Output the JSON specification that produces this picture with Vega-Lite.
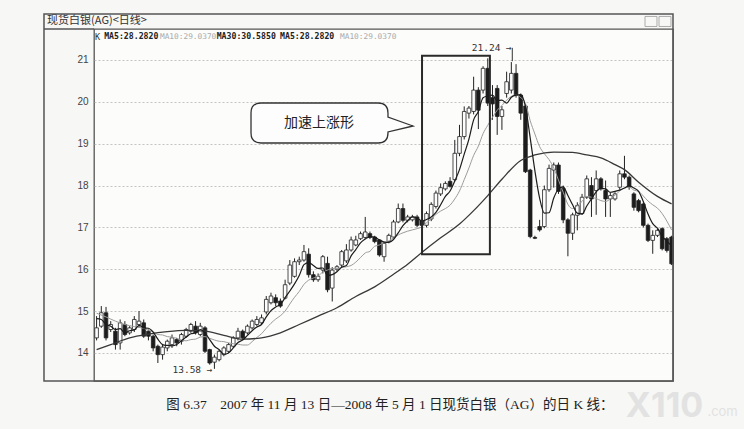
{
"$schema": "https://vega.github.io/schema/vega-lite/v6.json",
"width": 579, "height": 352,
"autosize": {"type": "none"},
"padding": {"left": 94, "top": 29, "right": 71, "bottom": 48},
"background": "#f7f7f5",
"config": {"view": {"stroke": "#555", "strokeWidth": 1.3, "fill": "#fcfcfb"},
 "axisY": {"values": [14,15,16,17,18,19,20,21], "format": "d", "domain": false, "ticks": false, "labelPadding": 6, "labelFont": "Liberation Sans", "labelFontSize": 10, "labelColor": "#444", "grid": true, "gridColor": "#b5b5b5", "gridDash": [2,2], "gridWidth": 0.8}},
"datasets": {
"k": [
{"i":1,"o":14.36,"h":14.88,"l":14.3,"c":14.6},{"i":2,"o":14.64,"h":15.12,"l":14.6,"c":14.96},{"i":3,"o":14.96,"h":15.1,"l":14.3,"c":14.36},{"i":4,"o":14.56,"h":14.76,"l":14.5,"c":14.68},{"i":5,"o":14.52,"h":14.6,"l":14.08,"c":14.2},{"i":6,"o":14.24,"h":14.8,"l":14.08,"c":14.72},{"i":7,"o":14.68,"h":14.76,"l":14.4,"c":14.44},{"i":8,"o":14.48,"h":14.64,"l":14.44,"c":14.6},{"i":9,"o":14.56,"h":14.88,"l":14.5,"c":14.8},{"i":10,"o":14.68,"h":15.0,"l":14.6,"c":14.76},
{"i":11,"o":14.72,"h":14.8,"l":14.36,"c":14.4},{"i":12,"o":14.52,"h":14.56,"l":14.3,"c":14.4},{"i":13,"o":14.4,"h":14.44,"l":14.04,"c":14.12},{"i":14,"o":14.16,"h":14.2,"l":13.76,"c":13.96},{"i":15,"o":13.96,"h":14.2,"l":13.84,"c":14.14},{"i":16,"o":14.12,"h":14.32,"l":14.04,"c":14.28},{"i":17,"o":14.2,"h":14.44,"l":14.12,"c":14.36},{"i":18,"o":14.32,"h":14.36,"l":14.16,"c":14.24},{"i":19,"o":14.28,"h":14.48,"l":14.2,"c":14.44},{"i":20,"o":14.4,"h":14.6,"l":14.36,"c":14.56},
{"i":21,"o":14.52,"h":14.72,"l":14.48,"c":14.68},{"i":22,"o":14.64,"h":14.76,"l":14.44,"c":14.48},{"i":23,"o":14.44,"h":14.72,"l":14.4,"c":14.64},{"i":24,"o":14.6,"h":14.64,"l":14.0,"c":14.04},{"i":25,"o":14.08,"h":14.1,"l":13.72,"c":13.76},{"i":26,"o":13.78,"h":13.96,"l":13.62,"c":13.9},{"i":27,"o":13.84,"h":14.08,"l":13.8,"c":14.04},{"i":28,"o":13.96,"h":14.16,"l":13.92,"c":14.12},{"i":29,"o":14.04,"h":14.24,"l":14.0,"c":14.2},{"i":30,"o":14.16,"h":14.4,"l":14.12,"c":14.36},
{"i":31,"o":14.36,"h":14.6,"l":14.3,"c":14.52},{"i":32,"o":14.52,"h":14.56,"l":14.32,"c":14.36},{"i":33,"o":14.48,"h":14.68,"l":14.44,"c":14.64},{"i":34,"o":14.6,"h":14.8,"l":14.56,"c":14.76},{"i":35,"o":14.68,"h":14.88,"l":14.64,"c":14.8},{"i":36,"o":14.72,"h":14.92,"l":14.68,"c":14.84},{"i":37,"o":14.98,"h":15.36,"l":14.92,"c":15.28},{"i":38,"o":15.2,"h":15.44,"l":15.16,"c":15.36},{"i":39,"o":15.32,"h":15.4,"l":15.12,"c":15.2},{"i":40,"o":15.24,"h":15.3,"l":15.08,"c":15.12},
{"i":41,"o":15.31,"h":15.75,"l":15.28,"c":15.63},{"i":42,"o":15.67,"h":16.22,"l":15.62,"c":16.1},{"i":43,"o":15.83,"h":16.26,"l":15.8,"c":16.18},{"i":44,"o":16.18,"h":16.3,"l":16.1,"c":16.22},{"i":45,"o":16.22,"h":16.58,"l":16.18,"c":16.42},{"i":46,"o":16.36,"h":16.5,"l":15.8,"c":15.87},{"i":47,"o":15.87,"h":15.95,"l":15.7,"c":15.75},{"i":48,"o":15.75,"h":15.9,"l":15.7,"c":15.83},{"i":49,"o":15.98,"h":16.34,"l":15.9,"c":16.3},{"i":50,"o":16.14,"h":16.3,"l":15.45,"c":15.51},
{"i":51,"o":15.55,"h":16.05,"l":15.23,"c":15.98},{"i":52,"o":16.0,"h":16.1,"l":15.95,"c":16.06},{"i":53,"o":16.1,"h":16.46,"l":16.05,"c":16.42},{"i":54,"o":16.2,"h":16.6,"l":16.15,"c":16.46},{"i":55,"o":16.46,"h":16.78,"l":16.42,"c":16.7},{"i":56,"o":16.58,"h":16.8,"l":16.55,"c":16.7},{"i":57,"o":16.73,"h":16.9,"l":16.7,"c":16.85},{"i":58,"o":16.76,"h":17.25,"l":16.72,"c":16.89},{"i":59,"o":16.85,"h":16.9,"l":16.72,"c":16.76},{"i":60,"o":16.77,"h":16.8,"l":16.62,"c":16.66},
{"i":61,"o":16.7,"h":16.72,"l":16.3,"c":16.34},{"i":62,"o":16.3,"h":16.66,"l":16.18,"c":16.62},{"i":63,"o":16.66,"h":16.85,"l":16.62,"c":16.81},{"i":64,"o":16.77,"h":17.18,"l":16.74,"c":17.13},{"i":65,"o":17.13,"h":17.57,"l":17.1,"c":17.45},{"i":66,"o":17.45,"h":17.57,"l":17.12,"c":17.17},{"i":67,"o":17.17,"h":17.3,"l":17.12,"c":17.25},{"i":68,"o":17.18,"h":17.3,"l":17.14,"c":17.25},{"i":69,"o":17.25,"h":17.3,"l":17.0,"c":17.05},{"i":70,"o":17.17,"h":17.2,"l":16.98,"c":17.05},
{"i":71,"o":17.05,"h":17.38,"l":17.0,"c":17.33},{"i":72,"o":17.2,"h":17.6,"l":17.15,"c":17.55},{"i":73,"o":17.5,"h":17.88,"l":17.45,"c":17.82},{"i":74,"o":17.8,"h":18.05,"l":17.75,"c":17.95},{"i":75,"o":17.92,"h":18.1,"l":17.88,"c":18.05},{"i":76,"o":18.1,"h":18.2,"l":17.95,"c":17.98},{"i":77,"o":18.14,"h":19.09,"l":18.1,"c":18.77},{"i":78,"o":18.77,"h":19.45,"l":18.7,"c":19.17},{"i":79,"o":19.17,"h":19.89,"l":19.1,"c":19.77},{"i":80,"o":19.73,"h":19.9,"l":19.6,"c":19.85},
{"i":81,"o":19.77,"h":20.6,"l":19.7,"c":20.28},{"i":82,"o":20.28,"h":20.35,"l":19.35,"c":19.8},{"i":83,"o":20.28,"h":20.85,"l":20.2,"c":20.8},{"i":84,"o":20.8,"h":21.04,"l":19.9,"c":19.97},{"i":85,"o":20.1,"h":20.4,"l":19.57,"c":19.95},{"i":86,"o":20.32,"h":20.4,"l":19.21,"c":19.65},{"i":87,"o":19.65,"h":19.9,"l":19.33,"c":19.81},{"i":88,"o":20.2,"h":20.72,"l":20.1,"c":20.48},{"i":89,"o":20.28,"h":20.95,"l":20.2,"c":20.68},{"i":90,"o":20.68,"h":20.9,"l":20.1,"c":20.16},
{"i":91,"o":20.16,"h":20.2,"l":19.57,"c":19.73},{"i":92,"o":19.9,"h":19.95,"l":18.3,"c":18.33},{"i":93,"o":18.37,"h":18.4,"l":16.74,"c":16.78},{"i":94,"o":16.76,"h":16.8,"l":16.72,"c":16.74},{"i":95,"o":17.02,"h":17.18,"l":16.9,"c":16.94},{"i":96,"o":17.02,"h":18.0,"l":16.98,"c":17.9},{"i":97,"o":17.9,"h":18.5,"l":17.85,"c":18.41},{"i":98,"o":18.37,"h":18.55,"l":17.95,"c":18.49},{"i":99,"o":18.49,"h":18.55,"l":17.8,"c":17.86},{"i":100,"o":17.94,"h":18.0,"l":17.1,"c":17.18},
{"i":101,"o":17.18,"h":17.22,"l":16.31,"c":16.86},{"i":102,"o":16.86,"h":17.35,"l":16.7,"c":17.3},{"i":103,"o":17.29,"h":17.6,"l":16.93,"c":17.52},{"i":104,"o":17.33,"h":17.8,"l":17.3,"c":17.72},{"i":105,"o":17.72,"h":18.24,"l":17.68,"c":18.16},{"i":106,"o":18.0,"h":18.2,"l":17.25,"c":17.68},{"i":107,"o":17.88,"h":18.36,"l":17.3,"c":18.16},{"i":108,"o":18.16,"h":18.2,"l":17.88,"c":17.92},{"i":109,"o":17.88,"h":18.12,"l":17.25,"c":17.68},{"i":110,"o":17.68,"h":17.84,"l":17.25,"c":17.76},
{"i":111,"o":17.68,"h":17.84,"l":17.64,"c":17.8},{"i":112,"o":17.96,"h":18.36,"l":17.9,"c":18.28},{"i":113,"o":18.28,"h":18.71,"l":18.15,"c":18.2},{"i":114,"o":18.2,"h":18.24,"l":17.9,"c":17.96},{"i":115,"o":17.8,"h":17.84,"l":17.4,"c":17.48},{"i":116,"o":17.64,"h":17.68,"l":17.36,"c":17.4},{"i":117,"o":17.56,"h":17.6,"l":17.0,"c":17.05},{"i":118,"o":17.05,"h":17.09,"l":16.65,"c":16.69},{"i":119,"o":16.69,"h":16.93,"l":16.37,"c":16.81},{"i":120,"o":16.81,"h":16.97,"l":16.77,"c":16.93},
{"i":121,"o":16.97,"h":17.0,"l":16.45,"c":16.49},{"i":122,"o":16.73,"h":16.77,"l":16.4,"c":16.45},{"i":123,"o":16.77,"h":16.8,"l":16.1,"c":16.13}
],
"ma5": [
{"i":1,"v":14.82},{"i":2,"v":14.8},{"i":3,"v":14.68},{"i":4,"v":14.64},{"i":5,"v":14.56},{"i":6,"v":14.58},{"i":7,"v":14.48},{"i":8,"v":14.53},{"i":9,"v":14.55},{"i":10,"v":14.66},{"i":11,"v":14.6},{"i":12,"v":14.59},{"i":13,"v":14.5},{"i":14,"v":14.33},{"i":15,"v":14.2},{"i":16,"v":14.18},{"i":17,"v":14.17},{"i":18,"v":14.2},{"i":19,"v":14.29},{"i":20,"v":14.38},{"i":21,"v":14.46},{"i":22,"v":14.48},{"i":23,"v":14.56},{"i":24,"v":14.48},{"i":25,"v":14.32},{"i":26,"v":14.16},{"i":27,"v":14.08},{"i":28,"v":13.97},{"i":29,"v":14.0},{"i":30,"v":14.12},{"i":31,"v":14.25},{"i":32,"v":14.31},{"i":33,"v":14.42},{"i":34,"v":14.53},{"i":35,"v":14.62},{"i":36,"v":14.68},{"i":37,"v":14.86},{"i":38,"v":15.01},{"i":39,"v":15.1},{"i":40,"v":15.16},{"i":41,"v":15.32},{"i":42,"v":15.48},{"i":43,"v":15.65},{"i":44,"v":15.85},{"i":45,"v":16.11},{"i":46,"v":16.16},{"i":47,"v":16.09},{"i":48,"v":16.02},{"i":49,"v":16.03},{"i":50,"v":15.85},{"i":51,"v":15.87},{"i":52,"v":15.94},{"i":53,"v":16.05},{"i":54,"v":16.09},{"i":55,"v":16.32},{"i":56,"v":16.47},{"i":57,"v":16.63},{"i":58,"v":16.72},{"i":59,"v":16.78},{"i":60,"v":16.77},{"i":61,"v":16.7},{"i":62,"v":16.65},{"i":63,"v":16.64},{"i":64,"v":16.71},{"i":65,"v":16.87},{"i":66,"v":17.04},{"i":67,"v":17.16},{"i":68,"v":17.25},{"i":69,"v":17.23},{"i":70,"v":17.15},{"i":71,"v":17.19},{"i":72,"v":17.25},{"i":73,"v":17.36},{"i":74,"v":17.54},{"i":75,"v":17.74},{"i":76,"v":17.87},{"i":77,"v":18.11},{"i":78,"v":18.38},{"i":79,"v":18.75},{"i":80,"v":19.11},{"i":81,"v":19.57},{"i":82,"v":19.77},{"i":83,"v":20.1},{"i":84,"v":20.14},{"i":85,"v":20.16},{"i":86,"v":20.03},{"i":87,"v":20.04},{"i":88,"v":19.97},{"i":89,"v":20.11},{"i":90,"v":20.16},{"i":91,"v":20.17},{"i":92,"v":19.88},{"i":93,"v":19.14},{"i":94,"v":18.35},{"i":95,"v":17.7},{"i":96,"v":17.34},{"i":97,"v":17.35},{"i":98,"v":17.7},{"i":99,"v":17.92},{"i":100,"v":17.97},{"i":101,"v":17.76},{"i":102,"v":17.54},{"i":103,"v":17.34},{"i":104,"v":17.32},{"i":105,"v":17.51},{"i":106,"v":17.68},{"i":107,"v":17.85},{"i":108,"v":17.93},{"i":109,"v":17.92},{"i":110,"v":17.84},{"i":111,"v":17.86},{"i":112,"v":17.89},{"i":113,"v":17.94},{"i":114,"v":18.0},{"i":115,"v":17.94},{"i":116,"v":17.86},{"i":117,"v":17.62},{"i":118,"v":17.32},{"i":119,"v":17.09},{"i":120,"v":16.98},{"i":121,"v":16.79},{"i":122,"v":16.67},{"i":123,"v":16.56}
],
"ma10": [
{"i":1,"v":14.95},{"i":3,"v":14.86},{"i":5,"v":14.76},{"i":7,"v":14.68},{"i":9,"v":14.63},{"i":10,"v":14.61},{"i":11,"v":14.59},{"i":12,"v":14.54},{"i":13,"v":14.51},{"i":14,"v":14.44},{"i":15,"v":14.43},{"i":16,"v":14.39},{"i":17,"v":14.38},{"i":18,"v":14.35},{"i":19,"v":14.31},{"i":20,"v":14.29},{"i":21,"v":14.32},{"i":22,"v":14.33},{"i":23,"v":14.38},{"i":24,"v":14.39},{"i":25,"v":14.35},{"i":26,"v":14.31},{"i":27,"v":14.28},{"i":28,"v":14.27},{"i":29,"v":14.24},{"i":30,"v":14.22},{"i":31,"v":14.21},{"i":32,"v":14.19},{"i":33,"v":14.19},{"i":34,"v":14.27},{"i":35,"v":14.37},{"i":36,"v":14.46},{"i":37,"v":14.59},{"i":38,"v":14.71},{"i":39,"v":14.81},{"i":40,"v":14.89},{"i":41,"v":15.0},{"i":42,"v":15.17},{"i":43,"v":15.33},{"i":44,"v":15.47},{"i":45,"v":15.64},{"i":46,"v":15.74},{"i":47,"v":15.79},{"i":48,"v":15.83},{"i":49,"v":15.94},{"i":50,"v":15.98},{"i":51,"v":16.02},{"i":52,"v":16.01},{"i":53,"v":16.04},{"i":54,"v":16.06},{"i":55,"v":16.09},{"i":56,"v":16.17},{"i":57,"v":16.28},{"i":58,"v":16.39},{"i":59,"v":16.43},{"i":60,"v":16.55},{"i":61,"v":16.58},{"i":62,"v":16.64},{"i":63,"v":16.68},{"i":64,"v":16.75},{"i":65,"v":16.82},{"i":66,"v":16.87},{"i":67,"v":16.91},{"i":68,"v":16.94},{"i":69,"v":16.97},{"i":70,"v":17.01},{"i":71,"v":17.11},{"i":72,"v":17.2},{"i":73,"v":17.31},{"i":74,"v":17.39},{"i":75,"v":17.45},{"i":76,"v":17.53},{"i":77,"v":17.68},{"i":78,"v":17.87},{"i":79,"v":18.14},{"i":80,"v":18.42},{"i":81,"v":18.72},{"i":82,"v":18.94},{"i":83,"v":19.24},{"i":84,"v":19.44},{"i":85,"v":19.63},{"i":86,"v":19.8},{"i":87,"v":19.91},{"i":88,"v":20.04},{"i":89,"v":20.13},{"i":90,"v":20.16},{"i":91,"v":20.1},{"i":92,"v":19.96},{"i":93,"v":19.55},{"i":94,"v":19.23},{"i":95,"v":18.93},{"i":96,"v":18.76},{"i":97,"v":18.62},{"i":98,"v":18.42},{"i":99,"v":18.13},{"i":100,"v":17.84},{"i":101,"v":17.55},{"i":102,"v":17.45},{"i":103,"v":17.52},{"i":104,"v":17.62},{"i":105,"v":17.74},{"i":106,"v":17.72},{"i":107,"v":17.69},{"i":108,"v":17.64},{"i":109,"v":17.62},{"i":110,"v":17.68},{"i":111,"v":17.77},{"i":112,"v":17.87},{"i":113,"v":17.94},{"i":114,"v":17.96},{"i":115,"v":17.89},{"i":116,"v":17.86},{"i":117,"v":17.75},{"i":118,"v":17.63},{"i":119,"v":17.54},{"i":120,"v":17.46},{"i":121,"v":17.33},{"i":122,"v":17.15},{"i":123,"v":16.94}
],
"ma30": [
{"i":1,"v":14.08},{"i":4,"v":14.2},{"i":8,"v":14.36},{"i":12,"v":14.45},{"i":16,"v":14.51},{"i":20,"v":14.54},{"i":24,"v":14.52},{"i":28,"v":14.42},{"i":32,"v":14.33},{"i":36,"v":14.36},{"i":40,"v":14.48},{"i":44,"v":14.68},{"i":48,"v":14.88},{"i":52,"v":15.08},{"i":56,"v":15.35},{"i":60,"v":15.58},{"i":64,"v":15.88},{"i":67,"v":16.12},{"i":70,"v":16.4},{"i":74,"v":16.75},{"i":78,"v":17.08},{"i":81,"v":17.4},{"i":84,"v":17.76},{"i":87,"v":18.15},{"i":91,"v":18.6},{"i":94,"v":18.73},{"i":98,"v":18.8},{"i":102,"v":18.79},{"i":105,"v":18.73},{"i":108,"v":18.66},{"i":111,"v":18.5},{"i":113,"v":18.38},{"i":116,"v":18.08},{"i":120,"v":17.74},{"i":123,"v":17.56}
],
"one": [{}]
},
"layer": [
{"data": {"name": "k"}, "mark": {"type": "rule", "color": "#222", "strokeWidth": 1},
 "encoding": {
  "x": {"field": "i", "type": "quantitative", "scale": {"domain": [0.45, 123.3], "nice": false, "zero": false, "padding": 0}, "axis": null},
  "y": {"field": "l", "type": "quantitative", "title": null, "scale": {"domain": [13.33, 21.74], "nice": false, "zero": false, "padding": 0}},
  "y2": {"field": "h"}}},
{"data": {"name": "k"}, "mark": {"type": "bar", "width": 3.6, "stroke": "#222", "strokeWidth": 0.8},
 "encoding": {
  "x": {"field": "i", "type": "quantitative", "scale": {"domain": [0.45, 123.3], "nice": false, "zero": false, "padding": 0}, "axis": null},
  "y": {"field": "o", "type": "quantitative", "title": null, "scale": {"domain": [13.33, 21.74], "nice": false, "zero": false, "padding": 0}},
  "y2": {"field": "c"},
  "fill": {"condition": {"test": "datum.c > datum.o", "value": "#fdfdfd"}, "value": "#1c1c1c"}}},
{"data": {"name": "ma10"}, "mark": {"type": "line", "color": "#9c9c9c", "strokeWidth": 1, "interpolate": "monotone"},
 "encoding": {
  "x": {"field": "i", "type": "quantitative", "scale": {"domain": [0.45, 123.3], "nice": false, "zero": false, "padding": 0}, "axis": null},
  "y": {"field": "v", "type": "quantitative", "title": null, "scale": {"domain": [13.33, 21.74], "nice": false, "zero": false, "padding": 0}}}},
{"data": {"name": "ma30"}, "mark": {"type": "line", "color": "#383838", "strokeWidth": 1.3, "interpolate": "monotone"},
 "encoding": {
  "x": {"field": "i", "type": "quantitative", "scale": {"domain": [0.45, 123.3], "nice": false, "zero": false, "padding": 0}, "axis": null},
  "y": {"field": "v", "type": "quantitative", "title": null, "scale": {"domain": [13.33, 21.74], "nice": false, "zero": false, "padding": 0}}}},
{"data": {"name": "ma5"}, "mark": {"type": "line", "color": "#1c1c1c", "strokeWidth": 1.2, "interpolate": "monotone"},
 "encoding": {
  "x": {"field": "i", "type": "quantitative", "scale": {"domain": [0.45, 123.3], "nice": false, "zero": false, "padding": 0}, "axis": null},
  "y": {"field": "v", "type": "quantitative", "title": null, "scale": {"domain": [13.33, 21.74], "nice": false, "zero": false, "padding": 0}}}},
{"data": {"name": "one"}, "mark": {"type": "rect", "fillOpacity": 0, "stroke": "#2a2a2a", "strokeWidth": 2, "clip": false},
 "encoding": {
  "x": {"datum": 70.05, "type": "quantitative", "scale": {"domain": [0.45, 123.3], "nice": false, "zero": false, "padding": 0}, "axis": null},
  "x2": {"datum": 84.45},
  "y": {"datum": 16.36, "type": "quantitative", "title": null, "scale": {"domain": [13.33, 21.74], "nice": false, "zero": false, "padding": 0}},
  "y2": {"datum": 21.1}}},
{"data": {"name": "one"}, "mark": {"type": "point", "shape": "M -0.877 -0.247 L 0.568 -0.247 Q 0.691 -0.247 0.691 -0.124 L 0.691 -0.074 L 1 0.037 L 0.691 0.11 L 0.691 0.124 Q 0.691 0.247 0.568 0.247 L -0.877 0.247 Q -1 0.247 -1 0.124 L -1 -0.124 Q -1 -0.247 -0.877 -0.247 Z", "size": 26244, "filled": true, "fill": "#fdfdfd", "stroke": "#333", "strokeWidth": 1.3, "opacity": 1, "clip": false},
 "encoding": {
  "x": {"datum": 50.95, "type": "quantitative", "scale": {"domain": [0.45, 123.3], "nice": false, "zero": false, "padding": 0}, "axis": null},
  "y": {"datum": 19.494, "type": "quantitative", "title": null, "scale": {"domain": [13.33, 21.74], "nice": false, "zero": false, "padding": 0}}}},
{"data": {"name": "one"}, "mark": {"type": "text", "text": "加速上涨形", "font": "Noto Sans CJK SC", "fontSize": 14, "color": "#222", "align": "center", "baseline": "middle"},
 "encoding": {
  "x": {"datum": 48.2, "type": "quantitative", "scale": {"domain": [0.45, 123.3], "nice": false, "zero": false, "padding": 0}, "axis": null},
  "y": {"datum": 19.494, "type": "quantitative", "title": null, "scale": {"domain": [13.33, 21.74], "nice": false, "zero": false, "padding": 0}}}},
{"data": {"name": "one"}, "mark": {"type": "text", "text": "21.24 →", "font": "DejaVu Sans Mono", "fontSize": 9.5, "color": "#333", "align": "right", "baseline": "middle"},
 "encoding": {
  "x": {"datum": 89.1, "type": "quantitative", "scale": {"domain": [0.45, 123.3], "nice": false, "zero": false, "padding": 0}, "axis": null},
  "y": {"datum": 21.29, "type": "quantitative", "title": null, "scale": {"domain": [13.33, 21.74], "nice": false, "zero": false, "padding": 0}}}},
{"data": {"name": "one"}, "mark": {"type": "rule", "color": "#333", "strokeWidth": 1},
 "encoding": {
  "x": {"datum": 89.2, "type": "quantitative", "scale": {"domain": [0.45, 123.3], "nice": false, "zero": false, "padding": 0}, "axis": null},
  "y": {"datum": 21.29, "type": "quantitative", "title": null, "scale": {"domain": [13.33, 21.74], "nice": false, "zero": false, "padding": 0}},
  "y2": {"datum": 20.97}}},
{"data": {"name": "one"}, "mark": {"type": "text", "text": "13.58 →", "font": "DejaVu Sans Mono", "fontSize": 9.5, "color": "#333", "align": "right", "baseline": "middle"},
 "encoding": {
  "x": {"datum": 25.6, "type": "quantitative", "scale": {"domain": [0.45, 123.3], "nice": false, "zero": false, "padding": 0}, "axis": null},
  "y": {"datum": 13.6, "type": "quantitative", "title": null, "scale": {"domain": [13.33, 21.74], "nice": false, "zero": false, "padding": 0}}}},
{"data": {"name": "one"}, "mark": {"type": "text", "text": "K", "font": "DejaVu Sans Mono", "fontSize": 8.5, "color": "#333", "align": "left", "baseline": "middle"},
 "encoding": {
  "x": {"datum": 0.66, "type": "quantitative", "scale": {"domain": [0.45, 123.3], "nice": false, "zero": false, "padding": 0}, "axis": null},
  "y": {"datum": 21.55, "type": "quantitative", "title": null, "scale": {"domain": [13.33, 21.74], "nice": false, "zero": false, "padding": 0}}}},
{"data": {"name": "one"}, "mark": {"type": "text", "text": "MA5:28.2820", "font": "DejaVu Sans Mono", "fontSize": 8.2, "fontWeight": "bold", "color": "#222", "align": "left", "baseline": "middle"},
 "encoding": {
  "x": {"datum": 2.6, "type": "quantitative", "scale": {"domain": [0.45, 123.3], "nice": false, "zero": false, "padding": 0}, "axis": null},
  "y": {"datum": 21.55, "type": "quantitative", "title": null, "scale": {"domain": [13.33, 21.74], "nice": false, "zero": false, "padding": 0}}}},
{"data": {"name": "one"}, "mark": {"type": "text", "text": "MA10:29.0370", "font": "DejaVu Sans Mono", "fontSize": 7.8, "color": "#aaa", "align": "left", "baseline": "middle"},
 "encoding": {
  "x": {"datum": 14.45, "type": "quantitative", "scale": {"domain": [0.45, 123.3], "nice": false, "zero": false, "padding": 0}, "axis": null},
  "y": {"datum": 21.55, "type": "quantitative", "title": null, "scale": {"domain": [13.33, 21.74], "nice": false, "zero": false, "padding": 0}}}},
{"data": {"name": "one"}, "mark": {"type": "text", "text": "MA30:30.5850", "font": "DejaVu Sans Mono", "fontSize": 8.2, "fontWeight": "bold", "color": "#222", "align": "left", "baseline": "middle"},
 "encoding": {
  "x": {"datum": 26.48, "type": "quantitative", "scale": {"domain": [0.45, 123.3], "nice": false, "zero": false, "padding": 0}, "axis": null},
  "y": {"datum": 21.55, "type": "quantitative", "title": null, "scale": {"domain": [13.33, 21.74], "nice": false, "zero": false, "padding": 0}}}},
{"data": {"name": "one"}, "mark": {"type": "text", "text": "MA5:28.2820", "font": "DejaVu Sans Mono", "fontSize": 8.2, "fontWeight": "bold", "color": "#222", "align": "left", "baseline": "middle"},
 "encoding": {
  "x": {"datum": 39.92, "type": "quantitative", "scale": {"domain": [0.45, 123.3], "nice": false, "zero": false, "padding": 0}, "axis": null},
  "y": {"datum": 21.55, "type": "quantitative", "title": null, "scale": {"domain": [13.33, 21.74], "nice": false, "zero": false, "padding": 0}}}},
{"data": {"name": "one"}, "mark": {"type": "text", "text": "MA10:29.0370", "font": "DejaVu Sans Mono", "fontSize": 7.8, "color": "#aaa", "align": "left", "baseline": "middle"},
 "encoding": {
  "x": {"datum": 52.65, "type": "quantitative", "scale": {"domain": [0.45, 123.3], "nice": false, "zero": false, "padding": 0}, "axis": null},
  "y": {"datum": 21.55, "type": "quantitative", "title": null, "scale": {"domain": [13.33, 21.74], "nice": false, "zero": false, "padding": 0}}}},
{"data": {"name": "one"}, "mark": {"type": "text", "text": "现货白银(AG)<日线>", "font": "Noto Sans CJK SC", "fontSize": 11, "color": "#333", "align": "left", "baseline": "middle", "clip": false},
 "encoding": {
  "x": {"datum": -9.5, "type": "quantitative", "scale": {"domain": [0.45, 123.3], "nice": false, "zero": false, "padding": 0}, "axis": null},
  "y": {"datum": 21.93, "type": "quantitative", "title": null, "scale": {"domain": [13.33, 21.74], "nice": false, "zero": false, "padding": 0}}}},
{"data": {"name": "one"}, "mark": {"type": "rect", "fillOpacity": 0, "stroke": "#555", "strokeWidth": 1.5, "clip": false},
 "encoding": {
  "x": {"datum": -10.16, "type": "quantitative", "scale": {"domain": [0.45, 123.3], "nice": false, "zero": false, "padding": 0}, "axis": null},
  "x2": {"datum": 123.3},
  "y": {"datum": 13.33, "type": "quantitative", "title": null, "scale": {"domain": [13.33, 21.74], "nice": false, "zero": false, "padding": 0}},
  "y2": {"datum": 22.098}}},
{"data": {"name": "one"}, "mark": {"type": "rule", "color": "#555", "strokeWidth": 1.3, "clip": false},
 "encoding": {
  "x": {"datum": -10.16, "type": "quantitative", "scale": {"domain": [0.45, 123.3], "nice": false, "zero": false, "padding": 0}, "axis": null},
  "x2": {"datum": 0.45},
  "y": {"datum": 21.74, "type": "quantitative", "title": null, "scale": {"domain": [13.33, 21.74], "nice": false, "zero": false, "padding": 0}}}},
{"data": {"name": "one"}, "mark": {"type": "rect", "fillOpacity": 0, "stroke": "#999", "strokeWidth": 0.8, "clip": false},
 "encoding": {
  "x": {"datum": 117.36, "type": "quantitative", "scale": {"domain": [0.45, 123.3], "nice": false, "zero": false, "padding": 0}, "axis": null},
  "x2": {"datum": 119.9},
  "y": {"datum": 21.8, "type": "quantitative", "title": null, "scale": {"domain": [13.33, 21.74], "nice": false, "zero": false, "padding": 0}},
  "y2": {"datum": 22.04}}},
{"data": {"name": "one"}, "mark": {"type": "rect", "fillOpacity": 0, "stroke": "#999", "strokeWidth": 0.8, "clip": false},
 "encoding": {
  "x": {"datum": 120.33, "type": "quantitative", "scale": {"domain": [0.45, 123.3], "nice": false, "zero": false, "padding": 0}, "axis": null},
  "x2": {"datum": 122.87},
  "y": {"datum": 21.8, "type": "quantitative", "title": null, "scale": {"domain": [13.33, 21.74], "nice": false, "zero": false, "padding": 0}},
  "y2": {"datum": 22.04}}},
{"data": {"name": "one"}, "mark": {"type": "text", "text": "X110", "font": "Inter", "fontSize": 34, "fontWeight": "bold", "color": "#e2e2e2", "align": "left", "baseline": "middle", "clip": false},
 "encoding": {
  "x": {"datum": 113.3, "type": "quantitative", "scale": {"domain": [0.45, 123.3], "nice": false, "zero": false, "padding": 0}, "axis": null},
  "y": {"datum": 12.71, "type": "quantitative", "title": null, "scale": {"domain": [13.33, 21.74], "nice": false, "zero": false, "padding": 0}}}},
{"data": {"name": "one"}, "mark": {"type": "text", "text": ".com", "font": "Inter", "fontSize": 13, "color": "#e2e2e2", "align": "left", "baseline": "middle", "clip": false},
 "encoding": {
  "x": {"datum": 130.6, "type": "quantitative", "scale": {"domain": [0.45, 123.3], "nice": false, "zero": false, "padding": 0}, "axis": null},
  "y": {"datum": 12.6, "type": "quantitative", "title": null, "scale": {"domain": [13.33, 21.74], "nice": false, "zero": false, "padding": 0}}}},
{"data": {"name": "one"}, "mark": {"type": "text", "text": "图 6.37　2007 年 11 月 13 日—2008 年 5 月 1 日现货白银（AG）的日 K 线：", "font": "Liberation Serif, Noto Sans CJK SC", "fontSize": 13.5, "color": "#222", "align": "center", "baseline": "middle", "clip": false},
 "encoding": {
  "x": {"datum": 63.25, "type": "quantitative", "scale": {"domain": [0.45, 123.3], "nice": false, "zero": false, "padding": 0}, "axis": null},
  "y": {"datum": 12.757, "type": "quantitative", "title": null, "scale": {"domain": [13.33, 21.74], "nice": false, "zero": false, "padding": 0}}}}
]
}
